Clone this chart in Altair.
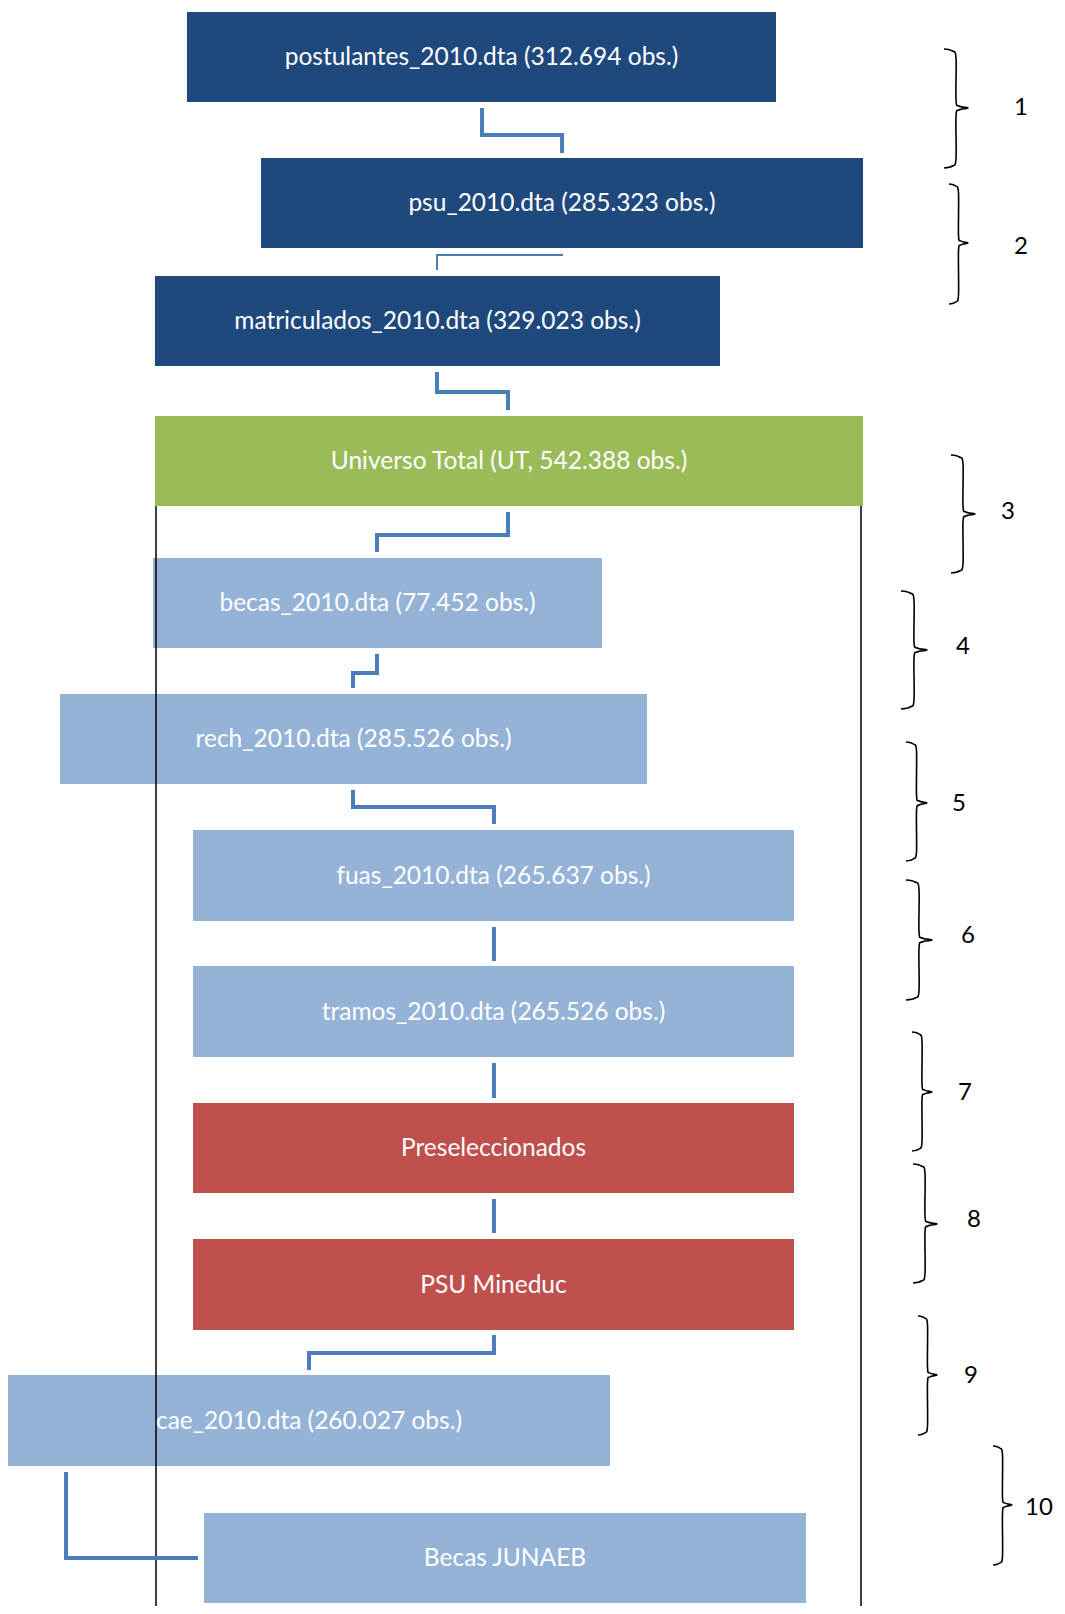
import altair as alt
import pandas as pd

# ---- box data (reference pixel coordinates) ----
box_labels = [
    "postulantes_2010.dta (312.694 obs.)",
    "psu_2010.dta (285.323 obs.)",
    "matriculados_2010.dta (329.023 obs.)",
    "Universo Total (UT, 542.388 obs.)",
    "becas_2010.dta (77.452 obs.)",
    "rech_2010.dta (285.526 obs.)",
    "fuas_2010.dta (265.637 obs.)",
    "tramos_2010.dta (265.526 obs.)",
    "Preseleccionados",
    "PSU Mineduc",
    "cae_2010.dta (260.027 obs.)",
    "Becas JUNAEB",
]
box_x0 = [187, 261, 155, 155, 153, 60, 193, 193, 193, 193, 8, 204]
box_x1 = [776, 863, 720, 863, 602, 647, 794, 794, 794, 794, 610, 806]
box_y0 = [12, 158, 276, 416, 558, 694, 830, 966, 1103, 1239, 1375, 1513]
box_y1 = [102, 248, 366, 506, 648, 784, 921, 1057, 1193, 1330, 1466, 1603]
box_kind = ["dark", "dark", "dark", "green", "light", "light", "light",
            "light", "red", "red", "light", "light"]
kind_colors = {"dark": "#1F497D", "green": "#9BBB59", "light": "#95B3D7", "red": "#C0504D"}

# ---- connectors ----
connector_paths = [
    [(482, 108), (482, 135), (562, 135), (562, 153)],
    [(563, 255), (437, 255), (437, 270)],
    [(437, 372), (437, 392), (508, 392), (508, 410)],
    [(508, 512), (508, 535), (377, 535), (377, 552)],
    [(377, 654), (377, 673), (353, 673), (353, 688)],
    [(353, 790), (353, 807), (494, 807), (494, 824)],
    [(494, 927), (494, 961)],
    [(494, 1063), (494, 1098)],
    [(494, 1199), (494, 1233)],
    [(494, 1335), (494, 1353), (309, 1353), (309, 1370)],
    [(66, 1472), (66, 1558), (198, 1558)],
]
connector_widths = [4, 2, 4, 4, 4, 4, 4, 4, 4, 4, 4]

# ---- frame lines ----
frame_x = [156, 861]
frame_y0 = [506, 506]
frame_y1 = [1614, 1614]

# ---- braces ----
brace_numbers = ["1", "2", "3", "4", "5", "6", "7", "8", "9", "10"]
brace_xl = [944, 949, 951, 901, 906, 906, 912, 913, 918, 993]
brace_xr = [968, 968, 975, 927, 927, 932, 932, 937, 937, 1012]
brace_ytop = [49, 184, 455, 591, 742, 880, 1032, 1164, 1316, 1446]
brace_ybot = [168, 304, 573, 709, 861, 1000, 1151, 1283, 1435, 1565]
brace_ytip = [108, 243, 514, 650, 803, 940, 1092, 1224, 1375, 1505]
num_x = [1021, 1021, 1008, 963, 959, 968, 965, 974, 971, 1039]
num_y = [108, 247, 512, 647, 804, 936, 1093, 1220, 1376, 1508]

# ---- build tables ----
boxes = pd.DataFrame({
    "label": box_labels, "x0": box_x0, "x1": box_x1,
    "y0": box_y0, "y1": box_y1, "kind": box_kind,
})
boxes["cx"] = (boxes.x0 + boxes.x1) / 2
boxes["cy"] = (boxes.y0 + boxes.y1) / 2

conn_rows = []
for pid, (path, w) in enumerate(zip(connector_paths, connector_widths)):
    for i, (px, py) in enumerate(path):
        conn_rows.append({"path": pid, "i": i, "x": px, "y": py, "w": w})
conn = pd.DataFrame(conn_rows)

frame = pd.DataFrame({"x": frame_x, "y0": frame_y0, "y1": frame_y1})

brace_rows = []
for b in range(len(brace_numbers)):
    xl, xr = brace_xl[b], brace_xr[b]
    yt, yb, yc = brace_ytop[b], brace_ybot[b], brace_ytip[b]
    w = xr - xl
    pts = [
        (xl, yt), (xl + 0.35 * w, yt + 2), (xl + 0.5 * w, yt + 9),
        (xl + 0.5 * w, yc - 8), (xl + 0.62 * w, yc - 2), (xr, yc),
        (xl + 0.62 * w, yc + 2), (xl + 0.5 * w, yc + 8),
        (xl + 0.5 * w, yb - 9), (xl + 0.35 * w, yb - 2), (xl, yb),
    ]
    for i, (px, py) in enumerate(pts):
        brace_rows.append({"b": b, "i": i, "x": px, "y": py})
braces = pd.DataFrame(brace_rows)

nums = pd.DataFrame({"t": brace_numbers, "x": num_x, "y": num_y})

# ---- scales ----
W, H = 1049, 1598
xs = alt.Scale(domain=[8, 8 + W], range=[0, W], nice=False, zero=False)
ys = alt.Scale(domain=[8, 8 + H], range=[0, H], nice=False, zero=False)
X = lambda f: alt.X(f, type="quantitative", scale=xs, axis=None)
Y = lambda f: alt.Y(f, type="quantitative", scale=ys, axis=None)

rects = alt.Chart(boxes).mark_rect().encode(
    x=X("x0"), x2="x1", y=Y("y0"), y2="y1",
    color=alt.Color("kind:N", scale=alt.Scale(domain=list(kind_colors.keys()),
                                               range=list(kind_colors.values())),
                    legend=None),
)

texts = alt.Chart(boxes).mark_text(
    font="Lato", fontSize=24.5, color="white", align="center", baseline="middle", dy=1
).encode(x=X("cx"), y=Y("cy"), text="label:N")

lines = alt.Chart(frame).mark_rule(color="black", strokeWidth=1.5).encode(
    x=X("x"), y=Y("y0"), y2="y1"
)

connectors = alt.Chart(conn).mark_line(
    color="#4A7EBB", strokeJoin="miter", strokeCap="butt"
).encode(
    x=X("x"), y=Y("y"), detail="path:N", order="i:Q",
    strokeWidth=alt.StrokeWidth("w:Q", scale=None),
)

brace_lines = alt.Chart(braces).mark_line(
    color="black", strokeWidth=1.6, interpolate="cardinal"
).encode(x=X("x"), y=Y("y"), detail="b:N", order="i:Q")

numbers = alt.Chart(nums).mark_text(
    font="Lato", fontSize=24, color="black", align="center", baseline="middle"
).encode(x=X("x"), y=Y("y"), text="t:N")

chart = alt.layer(rects, lines, connectors, texts, brace_lines, numbers).properties(
    width=W, height=H, padding=0,
    autosize=alt.AutoSizeParams(type="none"),
).configure_view(stroke=None)

chart.save("out.html", embed_options={"renderer": "svg", "actions": False})
